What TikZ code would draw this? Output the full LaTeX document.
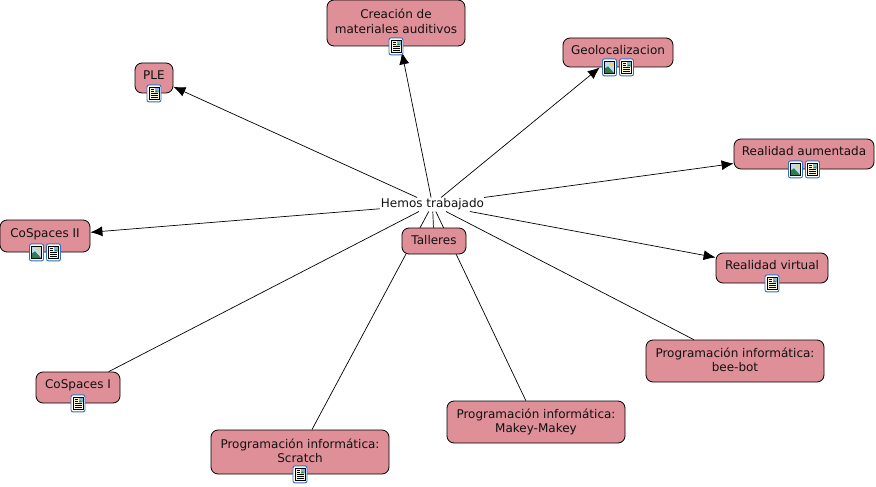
\documentclass[tikz,border=0pt]{standalone}
\usepackage{fontspec}
\setmainfont{DejaVu Sans}
\usetikzlibrary{arrows.meta,calc,positioning}
\definecolor{Concept}{HTML}{DF8F98}
\definecolor{TextInk}{HTML}{111111}
\definecolor{IconBlue}{HTML}{2F6FC0}
\definecolor{IconSky}{HTML}{7DB8E0}
\definecolor{IconHill}{HTML}{2E7D4F}
\definecolor{IconSun}{HTML}{E8D860}
\definecolor{IconPaper}{HTML}{FFFBD8}
\tikzset{
docicon/.pic={\draw[IconBlue,fill=white,line width=.9pt,rounded corners=2pt] (-7,-8.5) rectangle (7,8.5);
\draw[black,fill=IconPaper,line width=.6pt] (-5,-6) rectangle (5,6);
\fill[IconSky] (.5,-5.5) rectangle (4.5,-1); \fill[IconHill] (.5,-1) -- (2.5,-3) -- (4.5,-1) -- cycle;
\foreach \ypos/\xend in {-4/-.5,-2/-.5,0/3.5,2/3.5,4/3.5}{\draw[black,line width=.55pt] (-3.5,\ypos) -- (\xend,\ypos);}},
imgicon/.pic={\draw[IconBlue,fill=white,line width=.9pt,rounded corners=2pt] (-7,-8.5) rectangle (7,8.5);
\draw[black,fill=IconSky!50,line width=.6pt] (-5,-6) rectangle (5,6);
\fill[IconSun] (2,-3) circle (1.8pt);
\fill[IconHill] (-4.6,5.6) -- (-4.6,1) -- (-1.5,-1) -- (4.6,5.6) -- cycle;}}
\begin{document}
\begin{tikzpicture}[x=1pt,y=-1pt,every node/.style={font=\fontsize{12pt}{14.5pt}\selectfont,text=TextInk,align=center},concept/.style={draw=black,fill=Concept,line width=.8pt,rounded corners=7pt,inner sep=0pt,text depth=6pt},arrow/.style={-{Latex[length=12pt,width=10pt]},line width=.7pt,draw=black},plain/.style={line width=.7pt,draw=black}]
\useasboundingbox (0,0) rectangle (876,487);
\fill[white] (0,0) rectangle (876,487);

\node[concept,minimum width=138pt,minimum height=46pt,text depth=4pt] (creacion) at (396,23) {Creación de\\materiales auditivos};
\node[concept,minimum width=110pt,minimum height=29pt] (geoloc) at (618,52.5) {Geolocalizacion};
\node[concept,minimum width=38pt,minimum height=30pt] (ple) at (154,78) {PLE};
\node[concept,minimum width=140pt,minimum height=30pt] (aumentada) at (804,154) {Realidad aumentada};
\node[concept,minimum width=90pt,minimum height=32pt] (cospacesii) at (45,236) {CoSpaces II};
\node[concept,minimum width=112pt,minimum height=30pt] (virtual) at (772,268) {Realidad virtual};
\node[concept,minimum width=84pt,minimum height=31pt] (cospacesi) at (78,387.5) {CoSpaces I};
\node[concept,minimum width=178pt,minimum height=42pt,text depth=3pt] (beebot) at (735,361) {Programación informática:\\bee-bot};
\node[concept,minimum width=178pt,minimum height=42pt,text depth=3pt] (makey) at (536,422) {Programación informática:\\Makey-Makey};
\node[concept,minimum width=178pt,minimum height=44pt,text depth=3pt] (scratch) at (300,452) {Programación informática:\\Scratch};
\node[fill=white,inner xsep=1pt,inner ysep=1pt] (hemos) at (432.5,204.5) {Hemos trabajado};

\draw[arrow,shorten >=6pt] (hemos) -- (creacion);
\draw[arrow] (hemos) -- (geoloc); \draw[arrow] (hemos) -- (ple);
\draw[arrow] (hemos) -- (aumentada); \draw[arrow] (hemos) -- (cospacesii); \draw[arrow] (hemos) -- (virtual);
\draw[plain] (hemos) -- (cospacesi); \draw[plain] (hemos) -- (beebot);
\draw[plain] (hemos) -- (makey); \draw[plain] (hemos) -- (scratch);
\node[concept,minimum width=64pt,minimum height=26pt,text depth=3pt] (talleres) at (434,241) {Talleres};
\draw[plain] (hemos) -- (talleres);

\pic at (creacion.south) {docicon}; \pic at (ple.south) {docicon}; \pic at (virtual.south) {docicon};
\pic at (cospacesi.south) {docicon}; \pic at (scratch.south) {docicon};
\pic at ([xshift=-8.5pt]geoloc.south) {imgicon}; \pic at ([xshift=8.5pt]geoloc.south) {docicon};
\pic at ([xshift=-8.5pt]aumentada.south) {imgicon}; \pic at ([xshift=8.5pt]aumentada.south) {docicon};
\pic at ([xshift=-8.5pt]cospacesii.south) {imgicon}; \pic at ([xshift=8.5pt]cospacesii.south) {docicon};

\end{tikzpicture}
\end{document}
